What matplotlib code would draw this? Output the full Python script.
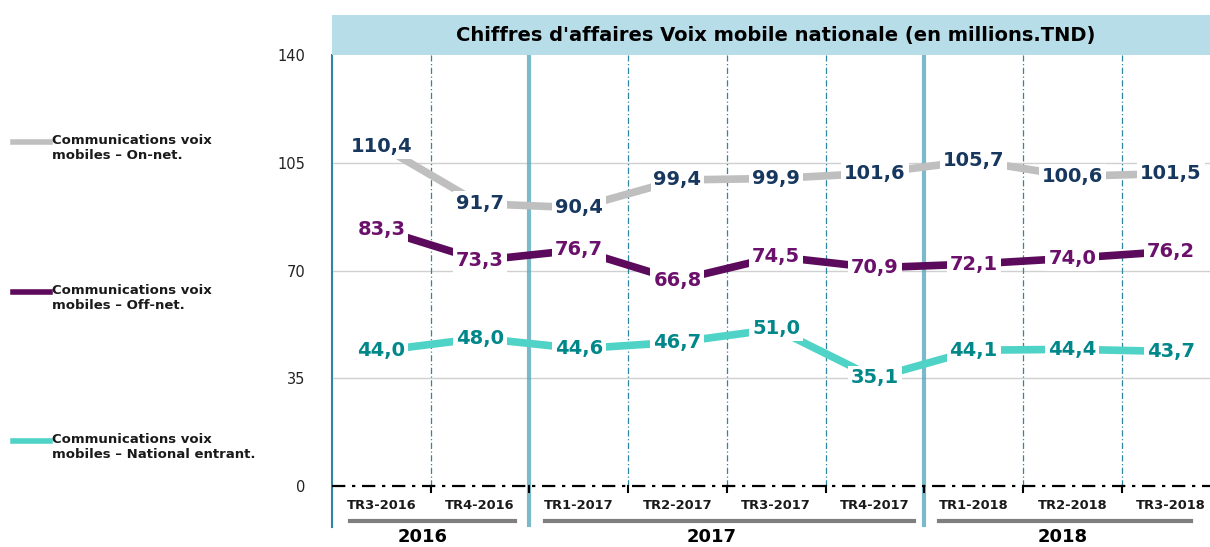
import numpy as np
import matplotlib.pyplot as plt
from matplotlib.patches import Rectangle

# data
quarters = ["TR3-2016", "TR4-2016", "TR1-2017", "TR2-2017", "TR3-2017",
            "TR4-2017", "TR1-2018", "TR2-2018", "TR3-2018"]
on_net = [110.4, 91.7, 90.4, 99.4, 99.9, 101.6, 105.7, 100.6, 101.5]
off_net = [83.3, 73.3, 76.7, 66.8, 74.5, 70.9, 72.1, 74.0, 76.2]
entrant = [44.0, 48.0, 44.6, 46.7, 51.0, 35.1, 44.1, 44.4, 43.7]
years = ["2016", "2017", "2018"]
y_ticks = [0, 35, 70, 105, 140]

series = [
    ("Communications voix\nmobiles – On-net.", on_net, "#BFBFBF", "#17375E"),
    ("Communications voix\nmobiles – Off-net.", off_net, "#5C0A5C", "#6B106B"),
    ("Communications voix\nmobiles – National entrant.", entrant, "#4FD3C7", "#00878A"),
]

W, H = 1210, 547
fig = plt.figure(figsize=(W / 100, H / 100), dpi=100)
left_px, top_px, bot_px, cat_w = 332, 55, 486, 98.7
ax = fig.add_axes([left_px / W, (H - bot_px) / H, 9 * cat_w / W, (bot_px - top_px) / H])

x = np.arange(len(quarters)) + 0.5
ax.set_xlim(0, len(quarters))
ax.set_ylim(0, 140)

# grid
for v in y_ticks[1:-1]:
    ax.axhline(v, color="#D0D0D0", lw=1, zorder=0)
teal = "#2E86A0"
for b in range(1, len(quarters)):
    if b in (2, 6):
        ax.axvline(b, ymin=-0.09, ymax=1, color="#5AA8BF", lw=3, alpha=0.8,
                   clip_on=False, zorder=1)
    else:
        ax.axvline(b, color=teal, lw=0.9, ls=(0, (5, 2, 1, 2)), zorder=1)
ax.axvline(0, ymin=-0.095, ymax=1, color=teal, lw=1.5, clip_on=False, zorder=1)
ax.axhline(0, color="black", lw=1.6, ls=(0, (6, 3, 1.5, 3)), zorder=2, clip_on=False)
for b in range(1, len(quarters)):
    ax.plot([b, b], [0, -2], color="black", lw=1.5, clip_on=False, zorder=2)

for s in ax.spines.values():
    s.set_visible(False)
ax.set_xticks([])
ax.set_yticks(y_ticks)
ax.set_yticklabels([str(v) for v in y_ticks], fontsize=10.5, color="#222222")
ax.tick_params(axis="y", length=0, pad=19)

# series
for name, vals, lc, tc in series:
    ax.plot(x, vals, color=lc, lw=5.5, solid_capstyle="butt", zorder=3)
    for xi, v in zip(x, vals):
        ax.text(xi, v, f"{v:.1f}".replace(".", ","), ha="center", va="center",
                fontsize=14, fontweight="bold", color=tc, zorder=4,
                bbox=dict(boxstyle="square,pad=0.15", fc="white", ec="none"))

# category labels
for xi, q in zip(x, quarters):
    ax.text(xi, -0.045, q, transform=ax.get_xaxis_transform(), ha="center",
            va="center", fontsize=9.4, fontweight="bold", color="#1a1a1a")

# year groups
year_x = [0.92, 3.85, 7.4]
under = [(0.18, 1.85), (2.16, 5.9), (6.15, 8.7)]
for yr, (a, b), yx in zip(years, under, year_x):
    ax.plot([a, b], [-0.081, -0.081], transform=ax.get_xaxis_transform(),
            color="#7F7F7F", lw=3, clip_on=False)
    ax.text(yx, -0.118, yr, transform=ax.get_xaxis_transform(), ha="center",
            va="center", fontsize=13, fontweight="bold", color="black")

# title banner
fig.patches.append(Rectangle((left_px / W, (H - top_px) / H), 1 - left_px / W,
                             40 / H, transform=fig.transFigure, fc="#B7DDE8",
                             ec="none", zorder=0))
fig.text(776 / W, (H - 36) / H, "Chiffres d'affaires Voix mobile nationale (en millions.TND)",
         ha="center", va="center", fontsize=14, fontweight="bold", color="black")

# legend on the left
leg_y = [142, 292, 441]
for (name, vals, lc, tc), ly in zip(series, leg_y):
    fig.lines.append(plt.Line2D([13 / W, 50 / W], [(H - ly) / H] * 2,
                                transform=fig.transFigure, color=lc, lw=4))
    fig.text(52 / W, (H - ly + 8) / H, name, ha="left", va="top", fontsize=9.5,
             fontweight="bold", color="#1a1a1a", linespacing=1.2)

fig.savefig("out.png", dpi=100)
